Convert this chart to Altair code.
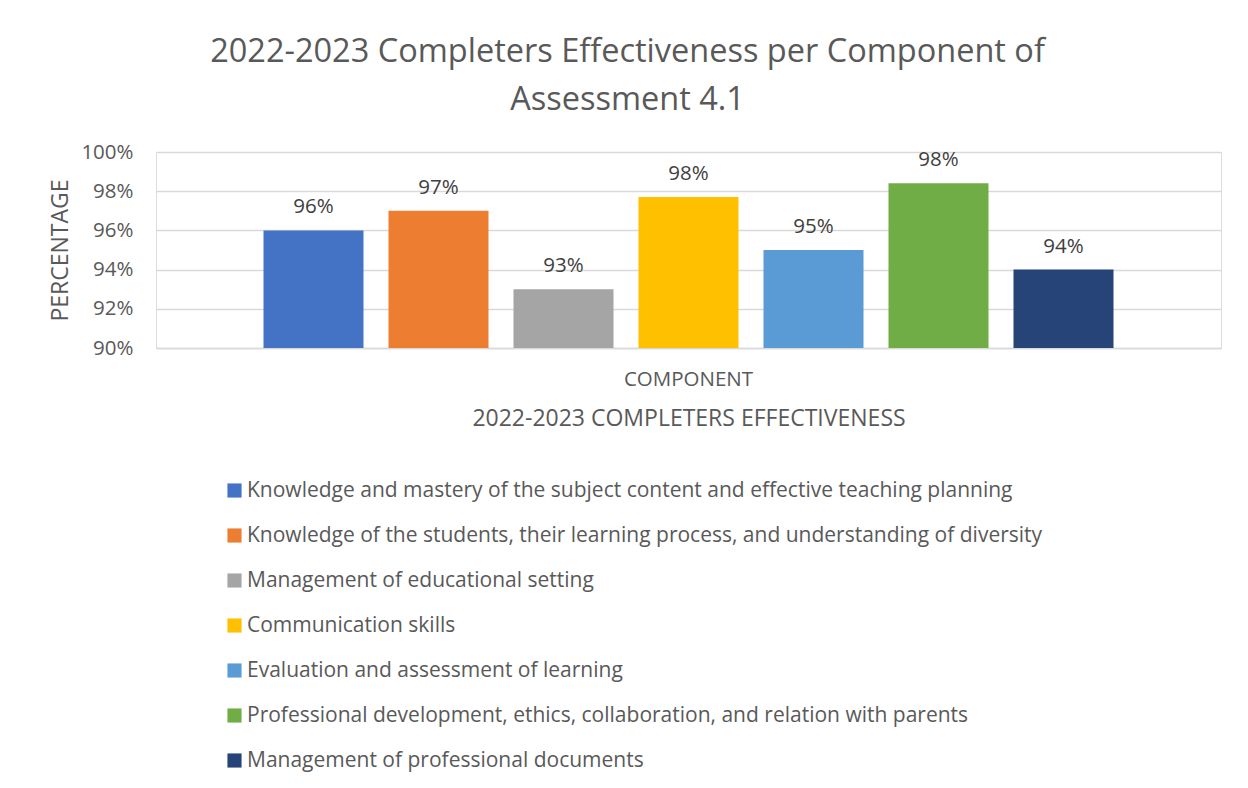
import altair as alt
import pandas as pd

components = [
    "Knowledge and mastery of the subject content and effective teaching planning",
    "Knowledge of the students, their learning process, and understanding of diversity",
    "Management of educational setting",
    "Communication skills",
    "Evaluation and assessment of learning",
    "Professional development, ethics, collaboration, and relation with parents",
    "Management of professional documents",
]
values = [0.96, 0.97, 0.93, 0.977, 0.95, 0.984, 0.94]
colors = ["#4472C4", "#ED7D31", "#A5A5A5", "#FFC000", "#5B9BD5", "#70AD47", "#264478"]
group_label = "COMPONENT"
y_ticks = [0.90, 0.92, 0.94, 0.96, 0.98, 1.00]

df = pd.DataFrame({
    "group": [group_label] * len(components),
    "component": components,
    "value": values,
})

FONT = "Open Sans"
GREY = "#595959"

base = alt.Chart(df).encode(
    x=alt.X(
        "group:N",
        title="2022-2023 COMPLETERS EFFECTIVENESS",
        scale=alt.Scale(paddingInner=0, paddingOuter=0),
        axis=alt.Axis(
            labelAngle=0, ticks=False, domainColor="#d9d9d9", domainWidth=1.5,
            labelFontSize=20.5, labelColor=GREY, labelPadding=21, labelFont=FONT,
            titleFontSize=23, titleColor=GREY, titlePadding=18, titleFont=FONT,
            titleFontWeight="normal",
        ),
    ),
    xOffset=alt.XOffset(
        "component:N", sort=components,
        scale=alt.Scale(paddingInner=0.2, paddingOuter=0.86),
    ),
    y=alt.Y(
        "value:Q",
        scale=alt.Scale(domain=[0.9, 1.0], zero=False),
        axis=alt.Axis(
            values=y_ticks, format=".0%", domain=False, ticks=False,
            gridColor="#d9d9d9", gridWidth=1.5,
            labelFontSize=20.5, labelColor=GREY, labelPadding=23, labelFont=FONT,
            title="PERCENTAGE", titleFontSize=23, titleColor=GREY, titleFont=FONT,
            titleFontWeight="normal", titlePadding=8,
        ),
    ),
)

bars = base.mark_bar(clip=True).encode(
    color=alt.Color(
        "component:N", sort=components,
        scale=alt.Scale(domain=components, range=colors),
        legend=alt.Legend(
            title=None, orient="none", legendX=68, legendY=328,
            direction="vertical", symbolType="square", symbolSize=200,
            symbolStrokeWidth=0, labelFontSize=21, labelColor=GREY, labelFont=FONT,
            labelLimit=1100, rowPadding=23, labelOffset=2,
        ),
    )
)

labels = base.mark_text(
    baseline="bottom", dy=-13, fontSize=20.5, color="#404040", font=FONT
).encode(text=alt.Text("value:Q", format=".0%"))

chart = (
    alt.layer(bars, labels)
    .properties(
        width=1065,
        height=196,
        padding={"left": 41, "top": 27, "right": 5, "bottom": 5},
        title=alt.TitleParams(
            ["2022-2023 Completers Effectiveness per Component of", "Assessment 4.1"],
            fontSize=32.5, fontWeight="normal", color=GREY, font=FONT,
            anchor="middle", lineHeight=48, offset=26, dx=-61,
        ),
    )
    .configure_view(stroke=None)
    .configure(background="white")
)

chart.save("out.html", embed_options={"renderer": "svg", "actions": False})
